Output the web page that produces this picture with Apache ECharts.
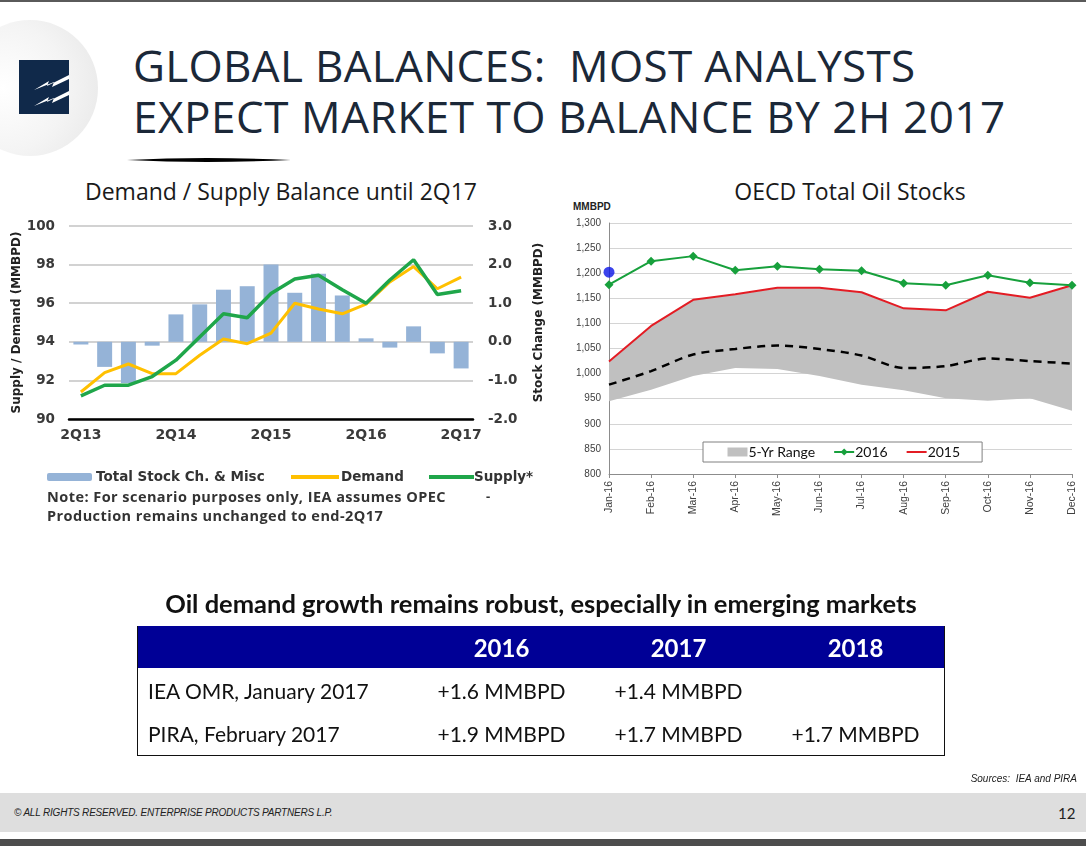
<!DOCTYPE html>
<html>
<head>
<meta charset="utf-8">
<script src="https://cdn.jsdelivr.net/npm/echarts@6/dist/echarts.min.js"></script>
<style>
  html,body{margin:0;padding:0;background:#fff;}
  body{width:1086px;height:846px;position:relative;overflow:hidden;font-family:"Open Sans",sans-serif;}
  .abs{position:absolute;}
  #chart{position:absolute;left:0;top:0;width:1086px;height:846px;}
  .mtitle{left:133px;color:#1b2838;font-size:44px;line-height:50px;white-space:nowrap;}
  .ctitle{font-size:23px;color:#1a1a1a;white-space:nowrap;transform:translateX(-50%);}
  table{border-collapse:collapse;}
  td{padding:0;}
</style>
</head>
<body>
<div class="abs" style="left:0;top:0;width:1086px;height:2px;background:#5a5a5a;"></div>
<div class="abs" style="left:-38px;top:20px;width:136px;height:136px;border-radius:50%;background:radial-gradient(circle at 30% 50%, #ffffff 0%, #f4f4f4 55%, #e6e6e6 100%);"></div>
<svg class="abs" style="left:19px;top:60px" width="50" height="54">
  <rect x="0" y="0" width="50" height="54" fill="#10294a"/>
  <path d="M15 30 L30 21 L28 26 L50 15 L50 19 L33 27 L35 22 Z" fill="#fff"/>
  <path d="M15 46 L30 37 L28 42 L50 31 L50 35 L33 43 L35 38 Z" fill="#fff"/>
</svg>
<div class="abs mtitle" id="t1" style="top:40px;letter-spacing:0.3px;">GLOBAL BALANCES:&nbsp; MOST ANALYSTS</div>
<div class="abs mtitle" id="t2" style="top:91px;letter-spacing:0.55px;">EXPECT MARKET TO BALANCE BY 2H 2017</div>
<svg class="abs" style="left:125px;top:156px" width="170" height="8">
  <path d="M2 4 Q 80 0 166 4 Q 80 8 2 4 Z" fill="#000"/>
</svg>

<div class="abs ctitle" style="left:281px;top:175px;">Demand / Supply Balance until 2Q17</div>
<div class="abs ctitle" style="left:850px;top:175px;">OECD Total Oil Stocks</div>
<div class="abs" style="left:573px;top:201px;font:bold 10px Arial,'Liberation Sans';color:#222;">MMBPD</div>

<div id="chart"></div>

<div class="abs" style="left:47px;top:487px;font:bold 14.5px 'Open Sans',sans-serif;letter-spacing:0.45px;color:#333;line-height:19px;white-space:nowrap;">Note: For scenario purposes only, IEA assumes OPEC<br>Production remains unchanged to end-2Q17</div>
<div class="abs" style="left:486px;top:487px;font:bold 13px 'Open Sans';color:#333;">-</div>

<div class="abs" id="tbltitle" style="left:541px;top:588px;transform:translateX(-50%);font:bold 25.5px Lato,sans-serif;color:#111;white-space:nowrap;">Oil demand growth remains robust, especially in emerging markets</div>
<div class="abs" id="tbl" style="left:137px;top:626px;font-family:Lato,sans-serif;"></div>

<div class="abs" style="right:9px;top:773px;font:italic 10px Arial,'Liberation Sans';color:#222;">Sources:&nbsp; IEA and PIRA</div>
<div class="abs" style="left:0;top:793px;width:1086px;height:39px;background:#dedede;"></div>
<div class="abs" style="left:14px;top:807px;font:italic 10px Arial,'Liberation Sans';color:#222;letter-spacing:-0.2px;">© ALL RIGHTS RESERVED. ENTERPRISE PRODUCTS PARTNERS L.P.</div>
<div class="abs" style="left:1058px;top:804px;font:15px Lato,sans-serif;color:#222;">12</div>
<div class="abs" style="left:0;top:839px;width:1086px;height:7px;background:#4d4d4d;"></div>

<script>
// ---------- Left chart data ----------
const quarters = ['2Q13','3Q13','4Q13','1Q14','2Q14','3Q14','4Q14','1Q15','2Q15','3Q15','4Q15','1Q16','2Q16','3Q16','4Q16','1Q17','2Q17'];
const stockChange = [-0.07,-0.65,-1.07,-0.1,0.71,0.97,1.35,1.44,2.0,1.27,1.76,1.2,0.09,-0.15,0.4,-0.3,-0.69];
const demand = [91.4,92.4,92.85,92.35,92.35,93.3,94.15,93.9,94.45,96.0,95.7,95.45,95.95,97.1,97.9,96.75,97.35];
const supply = [91.2,91.75,91.75,92.2,93.05,94.25,95.45,95.25,96.5,97.25,97.45,96.7,96.0,97.2,98.25,96.45,96.65];
const leftTicks = {min:90,max:100,interval:2};
const rightTicks = {min:-2,max:3,interval:1};

// ---------- Right chart data ----------
const months = ['Jan-16','Feb-16','Mar-16','Apr-16','May-16','Jun-16','Jul-16','Aug-16','Sep-16','Oct-16','Nov-16','Dec-16'];
const stocks2016 = [1177,1224,1234,1206,1214,1208,1205,1180,1176,1196,1181,1176];
const stocks2015 = [1024,1095,1147,1158,1171,1171,1162,1130,1126,1163,1151,1176];
const rangeMax = [1022,1095,1146,1157,1170,1170,1161,1129,1125,1162,1150,1175];
const rangeMin = [945,968,995,1011,1009,995,978,967,951,946,951,926];
const rangeAvg = [978,1005,1038,1049,1056,1049,1036,1011,1015,1030,1025,1020];
const latestPoint = [[0,1202]];
const rightAxis = {min:800,max:1300,interval:50};

// ---------- Table data ----------
const tableYears = ['2016','2017','2018'];
const tableRows = [
  ['IEA OMR, January 2017','+1.6 MMBPD','+1.4 MMBPD',''],
  ['PIRA, February 2017','+1.9 MMBPD','+1.7 MMBPD','+1.7 MMBPD']
];

(function buildTable(){
  let h = '<table style="width:807px;table-layout:fixed;border:1.5px solid #111;border-top:none;">';
  h += '<tr style="background:#000096;height:42px;"><td style="width:275px"></td>';
  tableYears.forEach(y=>{ h += '<td style="width:177px;text-align:center;color:#fff;font-weight:bold;font-size:24px;padding-top:1px;">'+y+'</td>'; });
  h += '</tr>';
  tableRows.forEach((r,ri)=>{
    h += '<tr style="height:'+(ri===0?44:43)+'px;font-size:21px;color:#111;">';
    r.forEach((c,i)=>{ h += '<td style="'+(i===0?'text-align:left;padding-left:10px;':'text-align:center;')+'">'+c+'</td>'; });
    h += '</tr>';
  });
  h += '</table>';
  document.getElementById('tbl').innerHTML = h;
})();

const chart = echarts.init(document.getElementById('chart'), null, {renderer:'canvas'});
const boldLbl = {fontFamily:'DejaVu Sans', fontWeight:'bold', fontSize:13, color:'#3a3a3a'};
const legLbl = {fontFamily:'DejaVu Sans', fontWeight:'bold', fontSize:13.5, color:'#333'};
const rLbl = {fontFamily:'Arial, Liberation Sans', fontSize:10, color:'#404040'};

chart.setOption({
  animation:false,
  grid:[
    {left:69, top:226, width:404, height:193},
    {left:609, top:223, width:463, height:251}
  ],
  legend:[
    {data:['Total Stock Ch. & Misc'], left:47, top:470, padding:0, itemWidth:45, itemHeight:8,
      textStyle:Object.assign({}, legLbl, {padding:[0,0,0,-1]})},
    {data:[{name:'Demand', itemStyle:{opacity:0}}], left:289, top:470, padding:0, itemWidth:48, itemHeight:8,
      lineStyle:{width:4},
      textStyle:Object.assign({}, legLbl, {padding:[0,0,0,-3]})},
    {data:[{name:'Supply*', itemStyle:{opacity:0}}], left:427, top:470, padding:0, itemWidth:45, itemHeight:8,
      lineStyle:{width:4},
      textStyle:Object.assign({}, legLbl, {padding:[0,0,0,-5]})},
    {data:[
        {name:'5-Yr Range', itemStyle:{opacity:0}, lineStyle:{color:'#c0c0c0', width:9, opacity:1}},
        {name:'2016'},
        {name:'2015', itemStyle:{opacity:0}}
      ], left:703, top:442, padding:[3,22,3,20], itemGap:18,
      itemWidth:20, itemHeight:9, borderColor:'#808080', borderWidth:1, backgroundColor:'#fff',
      textStyle:{fontFamily:'Lato, sans-serif', fontSize:14, color:'#111', padding:[0,0,0,-4]}}
  ],
  xAxis:[
    {type:'category', gridIndex:0, data:quarters, boundaryGap:true,
      axisLine:{onZero:false, lineStyle:{color:'#000', width:2.5}},
      axisTick:{interval:0, length:6, lineStyle:{color:'#000', width:2}},
      axisLabel:Object.assign({interval:3, margin:9}, boldLbl, {fontSize:14})},
    {type:'category', gridIndex:1, data:months, boundaryGap:false,
      axisLine:{onZero:false, lineStyle:{color:'#8c8c8c', width:1}},
      axisTick:{interval:0, length:4, lineStyle:{color:'#8c8c8c'}},
      axisLabel:Object.assign({interval:0, rotate:90, margin:7}, rLbl, {fontSize:10.5})}
  ],
  yAxis:[
    {type:'value', gridIndex:0, min:leftTicks.min, max:leftTicks.max, interval:leftTicks.interval,
      name:'Supply / Demand (MMBPD)', nameLocation:'middle', nameGap:46,
      nameTextStyle:{fontFamily:'DejaVu Sans', fontWeight:'bold', fontSize:12, color:'#222'},
      axisLine:{show:false}, axisTick:{show:false},
      axisLabel:Object.assign({margin:14}, boldLbl, {fontSize:13.5}),
      splitLine:{lineStyle:{color:'#c3c3c3', width:1.5}}},
    {type:'value', gridIndex:0, position:'right', min:rightTicks.min, max:rightTicks.max, interval:rightTicks.interval,
      name:'Stock Change (MMBPD)', nameLocation:'middle', nameGap:60, nameRotate:90,
      nameTextStyle:{fontFamily:'DejaVu Sans', fontWeight:'bold', fontSize:12, color:'#222'},
      axisLine:{show:false}, axisTick:{show:false},
      axisLabel:Object.assign({margin:15, formatter:v=>v.toFixed(1)}, boldLbl, {fontSize:13.5}),
      splitLine:{show:false}},
    {type:'value', gridIndex:1, min:rightAxis.min, max:rightAxis.max, interval:rightAxis.interval,
      axisLine:{show:true, lineStyle:{color:'#8c8c8c'}}, axisTick:{show:false},
      axisLabel:Object.assign({margin:8, formatter:v=>v.toLocaleString('en-US')}, rLbl),
      splitLine:{lineStyle:{color:'#d4d4d4', width:1}}}
  ],
  series:[
    {name:'Total Stock Ch. & Misc', type:'bar', xAxisIndex:0, yAxisIndex:1, data:stockChange,
      barWidth:'63%', itemStyle:{color:'#95b3d7'}},
    {name:'Demand', type:'line', xAxisIndex:0, yAxisIndex:0, data:demand, symbol:'none',
      lineStyle:{color:'#ffc000', width:3}, itemStyle:{color:'#ffc000'}},
    {name:'Supply*', type:'line', xAxisIndex:0, yAxisIndex:0, data:supply, symbol:'none',
      lineStyle:{color:'#1fa64a', width:3.5}, itemStyle:{color:'#1fa64a'}},

    {name:'rangeBase', type:'line', xAxisIndex:1, yAxisIndex:2, stack:'band', data:rangeMin,
      symbol:'none', lineStyle:{opacity:0}, areaStyle:{opacity:0}, silent:true},
    {name:'5-Yr Range', type:'line', xAxisIndex:1, yAxisIndex:2, stack:'band',
      data:rangeMax.map((v,i)=>v-rangeMin[i]), symbol:'none',
      lineStyle:{opacity:0}, areaStyle:{color:'#c0c0c0', opacity:1}, itemStyle:{color:'#c0c0c0'}},
    {name:'5-Yr Avg', type:'line', xAxisIndex:1, yAxisIndex:2, data:rangeAvg, symbol:'none', smooth:0.3,
      lineStyle:{color:'#000', width:2.5, type:[8,6]}},
    {name:'2015', type:'line', xAxisIndex:1, yAxisIndex:2, data:stocks2015, symbol:'none',
      lineStyle:{color:'#e31c24', width:2}, itemStyle:{color:'#e31c24'}},
    {name:'2016', type:'line', xAxisIndex:1, yAxisIndex:2, data:stocks2016, symbol:'diamond', symbolSize:9,
      lineStyle:{color:'#17a03c', width:2}, itemStyle:{color:'#17a03c'}},
    {name:'latest', type:'scatter', xAxisIndex:1, yAxisIndex:2, data:latestPoint, symbolSize:11,
      itemStyle:{color:'#0a14e6'}}
  ]
});
</script>
</body>
</html>
